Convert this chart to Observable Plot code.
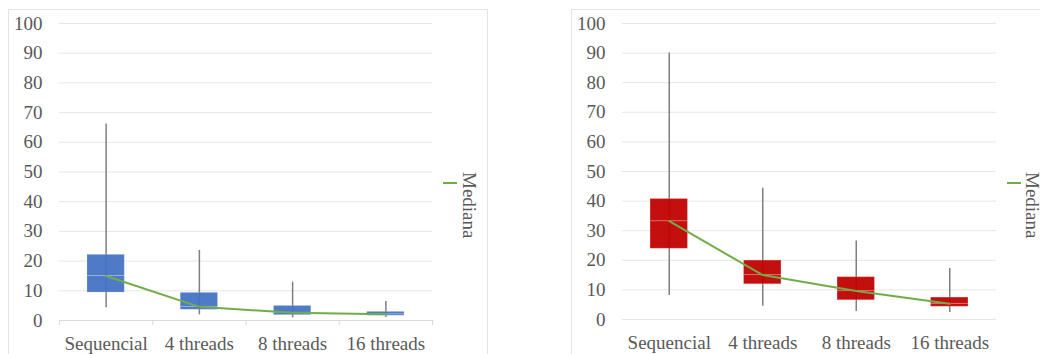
<!DOCTYPE html>
<html>
<head>
<meta charset="utf-8">
<script src="https://cdn.jsdelivr.net/npm/d3@7"></script>
<script src="https://cdn.jsdelivr.net/npm/@observablehq/plot@0.6"></script>
<style>
  html, body { margin: 0; padding: 0; background: #fff; }
  #wrap { position: relative; width: 1040px; height: 354px; overflow: hidden; font-family: "Liberation Serif", "Times New Roman", serif; }
  #wrap svg, #wrap svg text { font-family: "Liberation Serif", "Times New Roman", serif !important; }
  .panel { position: absolute; top: 0; width: 520px; height: 354px; }
  .border { position: absolute; border: 1px solid #e3e3e3; background: transparent; }
  .legline { position: absolute; height: 2px; background: #70AD47; }
  .legtext { position: absolute; writing-mode: vertical-rl; font-size: 19px; line-height: 19px; width: 19px; color: #595959; white-space: nowrap; }
</style>
</head>
<body>
<div id="wrap">
  <div class="border" style="left:8px; top:9px; width:478px; height:360px;"></div>
  <div class="border" style="left:571px; top:9px; width:480px; height:360px;"></div>
  <div class="panel" id="left" style="left:0"></div>
  <div class="panel" id="right" style="left:520px"></div>
  <div class="legline" style="left:443px; top:182px; width:14px;"></div>
  <div class="legtext" style="left:460px; top:172px;">Mediana</div>
  <div class="legline" style="left:1007px; top:182px; width:14px;"></div>
  <div class="legtext" style="left:1023px; top:172px;">Mediana</div>
</div>
<script>
const categories = ["Sequencial", "4 threads", "8 threads", "16 threads"];
const yTicks = [0, 10, 20, 30, 40, 50, 60, 70, 80, 90, 100];

// Left chart (blue)
const leftMin    = [4.3, 1.9, 0.9, 1.0];
const leftQ1     = [9.4, 3.6, 1.8, 1.6];
const leftMedian = [15.0, 4.6, 2.6, 2.1];
const leftQ3     = [22.1, 9.3, 4.9, 2.9];
const leftMax    = [66.2, 23.6, 12.9, 6.4];

// Right chart (red)
const rightMin    = [8.1, 4.5, 2.7, 2.4];
const rightQ1     = [23.9, 11.9, 6.5, 4.3];
const rightMedian = [33.2, 15.0, 9.6, 5.3];
const rightQ3     = [40.7, 19.9, 14.3, 7.4];
const rightMax    = [90, 44.3, 26.5, 17.2];

const FONT = "Liberation Serif, Times New Roman, serif";

function build(mins, q1s, meds, q3s, maxs) {
  return categories.map((c, i) => ({i, cat: c, min: mins[i], q1: q1s[i], median: meds[i], q3: q3s[i], max: maxs[i]}));
}

function chart(data, fill, opts) {
  const half = 0.2;
  const boundaries = d3.range(-0.5, categories.length, 1);
  const marks = [
    Plot.gridY(yTicks, {stroke: "#e6e6e6", strokeOpacity: 1}),
    Plot.axisY(yTicks, {tickSize: 0, tickPadding: 17, fontSize: 19, fontFamily: FONT, fill: "#595959", label: null}),
    Plot.axisX(d3.range(categories.length), {tickSize: 0, tickPadding: 15.5, fontSize: 19, fontFamily: FONT, fill: "#595959", label: null, tickFormat: i => categories[i]}),
  ];
  if (opts.baseline) {
    marks.push(Plot.ruleY([0], {stroke: "#d9d9d9"}));
    marks.push(Plot.axisX(boundaries, {tickSize: 5, stroke: "#d9d9d9", label: null, tickFormat: () => ""}));
  }
  marks.push(
    Plot.ruleX(data, {x: "i", y1: "min", y2: "max", stroke: "#7f7f7f", strokeWidth: 1.5}),
    Plot.rectY(data, {x1: d => d.i - half, x2: d => d.i + half, y1: "q1", y2: "median", fill, fillOpacity: 0.94, stroke: "#ffffff", strokeOpacity: 0.18}),
    Plot.rectY(data, {x1: d => d.i - half, x2: d => d.i + half, y1: "median", y2: "q3", fill, fillOpacity: 0.94, stroke: "#ffffff", strokeOpacity: 0.18}),
    Plot.lineY(data, {x: "i", y: "median", stroke: "#70AD47", strokeWidth: 2})
  );
  return Plot.plot({
    width: 520,
    height: 354,
    marginLeft: opts.ml,
    marginRight: opts.mr,
    marginTop: 23,
    marginBottom: opts.mb,
    style: {fontFamily: FONT, fontSize: "19px", color: "#595959", background: "transparent"},
    x: {type: "linear", domain: [-0.5, categories.length - 0.5], axis: null, label: null},
    y: {domain: [0, 100], axis: null, label: null},
    marks
  });
}

document.getElementById("left").appendChild(
  chart(build(leftMin, leftQ1, leftMedian, leftQ3, leftMax), "#4472C4", {ml: 59, mr: 88, mb: 34, baseline: true})
);
document.getElementById("right").appendChild(
  chart(build(rightMin, rightQ1, rightMedian, rightQ3, rightMax), "#C00000", {ml: 102, mr: 44, mb: 35, baseline: false})
);
</script>
</body>
</html>
